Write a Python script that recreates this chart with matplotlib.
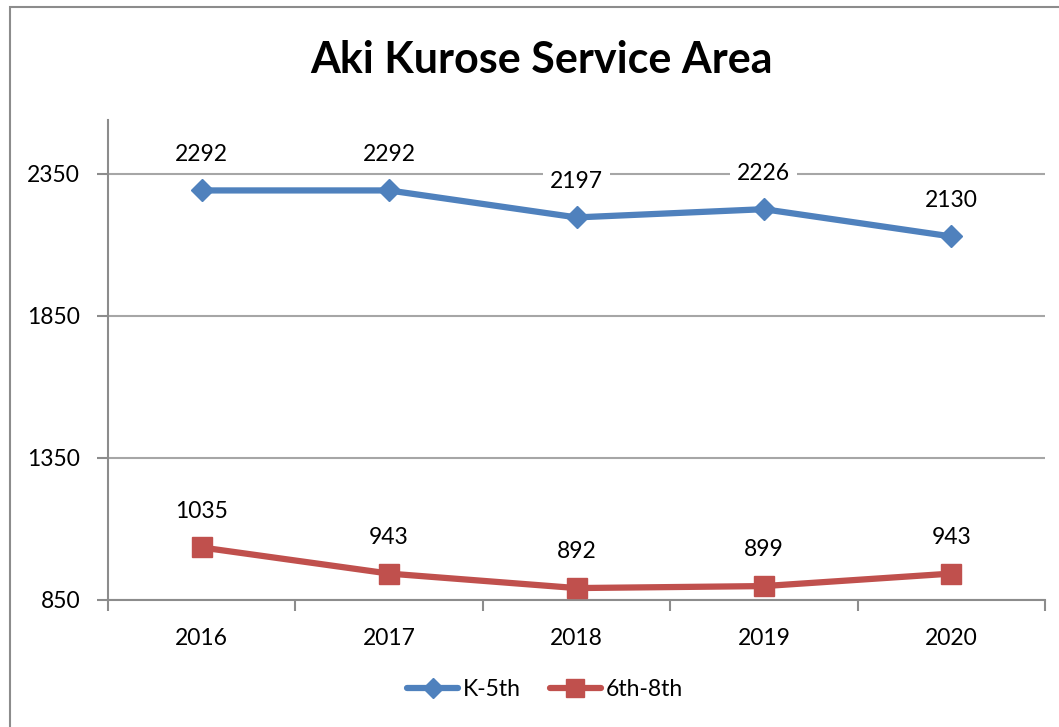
import matplotlib
matplotlib.use("Agg")
import matplotlib.pyplot as plt
from matplotlib.patches import Rectangle

years = ["2016", "2017", "2018", "2019", "2020"]
k5 = [2292, 2292, 2197, 2226, 2130]
g68 = [1035, 943, 892, 899, 943]
yticks = [850, 1350, 1850, 2350]

plt.rcParams['font.family'] = ['Lato', 'DejaVu Sans']

W, H = 1059, 727
fig = plt.figure(figsize=(W / 100, H / 100), dpi=100)
fig.patch.set_facecolor('white')

# outer chart frame
fig.patches.append(Rectangle((10 / W, -0.05), 1.2, (H - 7) / H + 0.05,
                             transform=fig.transFigure, fill=False,
                             edgecolor='#8c8c8c', linewidth=1.5))

ax = fig.add_axes([108 / W, (H - 600) / H, (1045 - 108) / W, (600 - 120) / H])
x = list(range(len(years)))

blue = '#4F81BD'
red = '#C0504D'
ax.plot(x, k5, color=blue, linewidth=4.5, marker='D', markersize=11,
        label='K-5th', zorder=3, solid_capstyle='round')
ax.plot(x, g68, color=red, linewidth=4.5, marker='s', markersize=14,
        label='6th-8th', zorder=3, solid_capstyle='round')

fs = 16.5
for xi, v in zip(x, k5):
    ax.annotate(str(v), (xi, v), xytext=(0, 26), textcoords='offset points',
                ha='center', va='center', fontsize=fs, color='black',
                bbox=dict(boxstyle='square,pad=0.3', fc='white', ec='none'), zorder=4)
for xi, v in zip(x, g68):
    ax.annotate(str(v), (xi, v), xytext=(0, 26), textcoords='offset points',
                ha='center', va='center', fontsize=fs, color='black',
                bbox=dict(boxstyle='square,pad=0.3', fc='white', ec='none'), zorder=4)

ax.set_xlim(-0.5, len(years) - 0.5)
ax.set_ylim(850, 2540)
ax.set_yticks(yticks)
ax.set_yticklabels([str(t) for t in yticks], fontsize=fs)
ax.set_xticks(x)
ax.set_xticklabels(years, fontsize=fs)
ax.set_xticks([i - 0.5 for i in range(len(years) + 1)], minor=True)
ax.tick_params(axis='x', which='major', length=0, pad=20)
ax.tick_params(axis='x', which='minor', length=8, width=1.5, color='#8c8c8c')
ax.tick_params(axis='y', length=8, width=1.5, color='#8c8c8c', pad=12)

ax.grid(axis='y', color='#a6a6a6', linewidth=1.5, zorder=0)
ax.set_axisbelow(True)
for s in ['top', 'right']:
    ax.spines[s].set_visible(False)
ax.spines['left'].set_color('#8c8c8c')
ax.spines['bottom'].set_color('#8c8c8c')
ax.spines['left'].set_linewidth(1.5)
ax.spines['bottom'].set_linewidth(1.5)

fig.text(541 / W, 1 - 60 / H, 'Aki Kurose Service Area', ha='center', va='center',
         fontsize=31, fontweight='bold')

leg = fig.legend(loc='center', bbox_to_anchor=(545 / W, 1 - 690 / H), ncol=2,
                 frameon=False, fontsize=fs, handlelength=2.2, columnspacing=1.3,
                 handletextpad=0.2, markerscale=0.9)

fig.savefig('out.png', dpi=100, facecolor='white')
